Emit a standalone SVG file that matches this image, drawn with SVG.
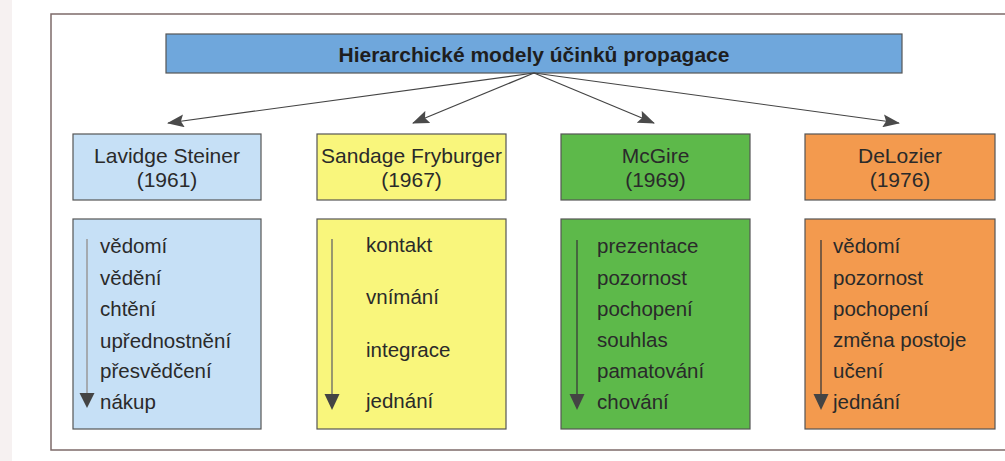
<svg xmlns="http://www.w3.org/2000/svg" width="1005" height="461" viewBox="0 0 1005 461">
<defs>
<style>
.box{stroke:#555;stroke-width:1.2}
.hd{font-family:"Liberation Sans",Arial,sans-serif;font-size:21px;fill:#2a2a2a;text-anchor:middle}
.it{font-family:"Liberation Sans",Arial,sans-serif;font-size:20.5px;fill:#2a2a2a}
.conn{stroke:#444;stroke-width:1.2;fill:none}
.ah{fill:#444}
</style>
<marker id="arr" viewBox="0 0 17 13" refX="16" refY="6.5" markerWidth="17" markerHeight="13" markerUnits="userSpaceOnUse" orient="auto">
<path d="M0,0 L17,6.5 L0,13 L3,6.5 Z" fill="#4a4a4a"/>
</marker>
</defs>
<rect width="1005" height="461" fill="#ffffff"/>
<rect x="0" y="0" width="12" height="461" fill="#f6f1f1"/>
<path d="M1005,14 H51 V450 H1005" fill="none" stroke="#7d6b69" stroke-width="1.5"/>

<g id="title">
<rect class="box" x="166" y="34" width="736" height="39" fill="#6fa7dc"/>
<text x="534" y="62" font-family="Liberation Sans,Arial,sans-serif" font-size="21" font-weight="bold" fill="#1e1e1e" text-anchor="middle">Hierarchické modely účinků propagace</text>
</g>

<g id="connectors">
<line class="conn" x1="534" y1="73" x2="168" y2="123" marker-end="url(#arr)"/>
<line class="conn" x1="534" y1="73" x2="413" y2="123" marker-end="url(#arr)"/>
<line class="conn" x1="534" y1="73" x2="654" y2="123" marker-end="url(#arr)"/>
<line class="conn" x1="534" y1="73" x2="899" y2="123" marker-end="url(#arr)"/>
</g>

<g id="lavidge-head">
<rect class="box" x="73" y="134" width="188" height="66" fill="#c6e0f6"/>
<text class="hd" x="167" y="163">Lavidge Steiner</text>
<text class="hd" x="167" y="187">(1961)</text>
</g>
<g id="lavidge-list">
<rect class="box" x="73" y="219" width="188" height="210" fill="#c6e0f6"/>
<line x1="87" y1="239" x2="87" y2="396" stroke="#999" stroke-width="1.5"/>
<path class="ah" d="M79.5,393 H94.5 L87,408 Z"/>
<text class="it" x="100" y="253">vědomí</text>
<text class="it" x="100" y="284.5">vědění</text>
<text class="it" x="100" y="316">chtění</text>
<text class="it" x="100" y="347.5">upřednostnění</text>
<text class="it" x="100" y="378">přesvědčení</text>
<text class="it" x="100" y="409">nákup</text>
</g>

<g id="sandage-head">
<rect class="box" x="317" y="134" width="189" height="66" fill="#f9f67c"/>
<text class="hd" x="411.5" y="163">Sandage Fryburger</text>
<text class="hd" x="411.5" y="187">(1967)</text>
</g>
<g id="sandage-list">
<rect class="box" x="317" y="219" width="189" height="210" fill="#f9f67c"/>
<line x1="332" y1="239" x2="332" y2="396" stroke="#666" stroke-width="1.3"/>
<path class="ah" d="M324.5,394 H339.5 L332,410 Z"/>
<text class="it" x="366" y="252">kontakt</text>
<text class="it" x="366" y="304">vnímání</text>
<text class="it" x="366" y="357">integrace</text>
<text class="it" x="366" y="408">jednání</text>
</g>

<g id="mcgire-head">
<rect class="box" x="561" y="134" width="189" height="66" fill="#5db94a"/>
<text class="hd" x="655.5" y="163">McGire</text>
<text class="hd" x="655.5" y="187">(1969)</text>
</g>
<g id="mcgire-list">
<rect class="box" x="561" y="219" width="189" height="210" fill="#5db94a"/>
<line x1="577" y1="240" x2="577" y2="396" stroke="#3a3a3a" stroke-width="1.3"/>
<path class="ah" d="M569.5,394 H584.5 L577,410 Z"/>
<text class="it" x="597" y="253">prezentace</text>
<text class="it" x="597" y="284.5">pozornost</text>
<text class="it" x="597" y="316">pochopení</text>
<text class="it" x="597" y="347">souhlas</text>
<text class="it" x="597" y="378">pamatování</text>
<text class="it" x="597" y="409">chování</text>
</g>

<g id="delozier-head">
<rect class="box" x="805" y="134" width="190" height="66" fill="#f39a4e"/>
<text class="hd" x="900" y="163">DeLozier</text>
<text class="hd" x="900" y="187">(1976)</text>
</g>
<g id="delozier-list">
<rect class="box" x="805" y="219" width="190" height="210" fill="#f39a4e"/>
<line x1="821" y1="240" x2="821" y2="396" stroke="#3a3a3a" stroke-width="1.3"/>
<path class="ah" d="M813.5,394 H828.5 L821,410 Z"/>
<text class="it" x="833" y="253">vědomí</text>
<text class="it" x="833" y="284.5">pozornost</text>
<text class="it" x="833" y="316">pochopení</text>
<text class="it" x="833" y="347">změna postoje</text>
<text class="it" x="833" y="378">učení</text>
<text class="it" x="833" y="409">jednání</text>
</g>
</svg>
